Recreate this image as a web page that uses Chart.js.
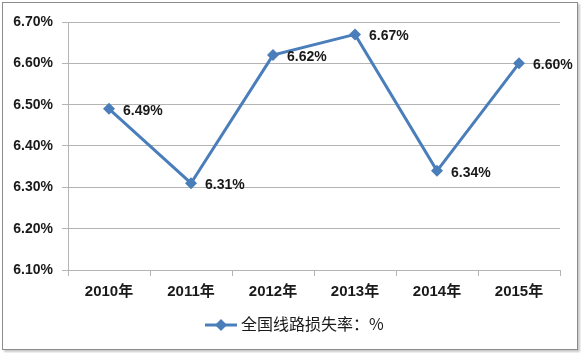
<!DOCTYPE html>
<html>
<head>
<meta charset="utf-8">
<script src="https://cdn.jsdelivr.net/npm/chart.js@4"></script>
<style>
  html, body { margin: 0; padding: 0; background: #fff; }
  #wrap { position: relative; width: 581px; height: 353px; }
  #chart { position: absolute; left: 0; top: 0; }
  #frame {
    position: absolute; left: 2px; top: 2px; width: 574px; height: 346px;
    border: 1px solid #8c8c8c; box-shadow: 2px 2px 2px #c8c8c8; pointer-events: none;
  }
</style>
</head>
<body>
<div id="wrap">
  <canvas id="chart" width="581" height="353"></canvas>
  <div id="frame"></div>
</div>
<script>
const years = ['2010年', '2011年', '2012年', '2013年', '2014年', '2015年'];
const lossRate = [6.49, 6.31, 6.62, 6.67, 6.34, 6.60];
const seriesName = '全国线路损失率：%';
const yMin = 6.1;
const yMax = 6.7;
const yStep = 0.1;

const lineColor = '#4a7ebb';
const gridColor = '#b4b4b4';
const textFont = '"Liberation Sans", "Noto Sans CJK SC", sans-serif';

// value labels to the right of each point
const valueLabels = {
  id: 'valueLabels',
  afterDatasetsDraw(chart) {
    const ctx = chart.ctx;
    const meta = chart.getDatasetMeta(0);
    ctx.save();
    ctx.font = 'bold 14px ' + textFont;
    ctx.fillStyle = '#1a1a1a';
    ctx.textBaseline = 'middle';
    ctx.textAlign = 'left';
    meta.data.forEach((pt, i) => {
      ctx.fillText(lossRate[i].toFixed(2) + '%', pt.x + 14, pt.y + 2);
    });
    ctx.restore();
  },
};

// legend drawn as line + diamond, like the office chart
const lineLegend = {
  id: 'lineLegend',
  afterDraw(chart) {
    const ctx = chart.ctx;
    const y = 325;
    ctx.save();
    ctx.strokeStyle = lineColor;
    ctx.lineWidth = 3;
    ctx.beginPath();
    ctx.moveTo(205, y);
    ctx.lineTo(237, y);
    ctx.stroke();
    ctx.fillStyle = lineColor;
    ctx.beginPath();
    ctx.moveTo(221, y - 6);
    ctx.lineTo(227, y);
    ctx.lineTo(221, y + 6);
    ctx.lineTo(215, y);
    ctx.closePath();
    ctx.fill();
    ctx.font = '16px "Noto Sans CJK SC", sans-serif';
    ctx.fillStyle = '#1a1a1a';
    ctx.textBaseline = 'middle';
    ctx.fillText(seriesName, 241, y - 1);
    ctx.restore();
  },
};

new Chart(document.getElementById('chart'), {
  type: 'line',
  data: {
    labels: years,
    datasets: [{
      label: seriesName,
      data: lossRate,
      borderColor: lineColor,
      backgroundColor: lineColor,
      borderWidth: 3,
      tension: 0,
      pointStyle: 'rectRot',
      pointRadius: 6,
      pointHoverRadius: 6,
      pointBackgroundColor: lineColor,
      pointBorderColor: lineColor,
      pointBorderWidth: 0,
    }],
  },
  options: {
    responsive: false,
    animation: false,
    layout: { padding: { left: 0, right: 21, top: 22, bottom: 0 } },
    plugins: {
      legend: { display: false },
      tooltip: { enabled: false },
    },
    scales: {
      x: {
        offset: true,
        grid: {
          offset: true,
          drawOnChartArea: false,
          drawTicks: true,
          tickLength: 6,
          color: gridColor,
        },
        border: { color: gridColor, width: 1 },
        ticks: {
          color: '#1a1a1a',
          padding: 7,
          maxRotation: 0,
          font: { family: textFont, size: 15, weight: 'bold' },
        },
        afterFit(scale) { scale.height = 83; },
      },
      y: {
        min: yMin,
        max: yMax,
        grid: { color: gridColor, tickLength: 6 },
        border: { color: gridColor, width: 1 },
        ticks: {
          stepSize: yStep,
          color: '#1a1a1a',
          padding: 9,
          font: { family: textFont, size: 14, weight: 'bold' },
          callback: (v) => v.toFixed(2) + '%',
        },
        afterFit(scale) { scale.width = 68; },
      },
    },
  },
  plugins: [valueLabels, lineLegend],
});
</script>
</body>
</html>
